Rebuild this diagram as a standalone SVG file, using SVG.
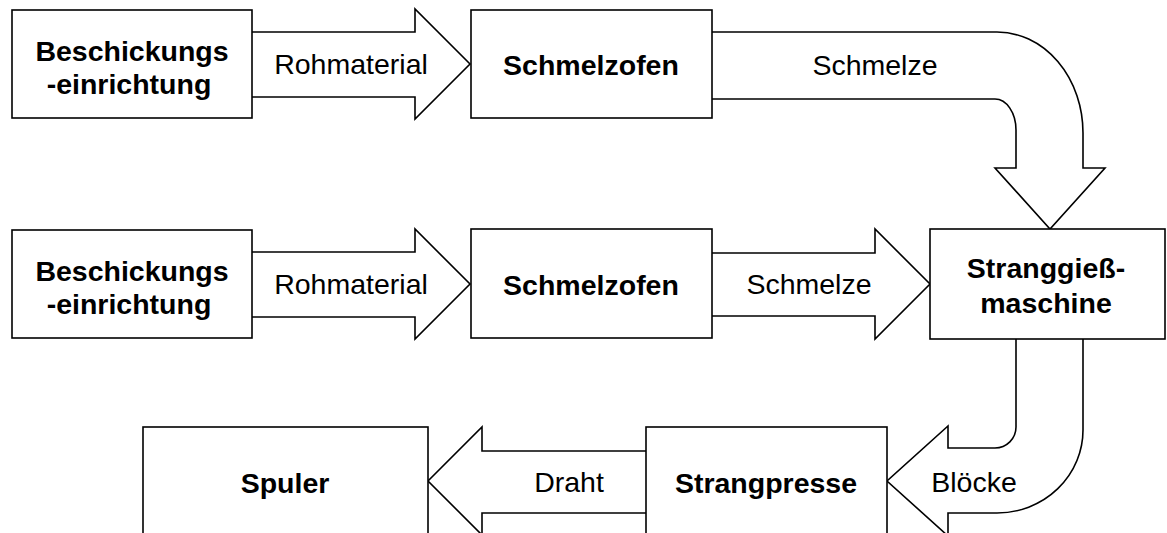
<svg xmlns="http://www.w3.org/2000/svg" width="1167" height="533" viewBox="0 0 1167 533">
<style>
.box{fill:#fff;stroke:#000;stroke-width:1.6}
.arr{fill:#fff;stroke:#000;stroke-width:1.6;stroke-linejoin:miter}
.t{font-family:"Liberation Sans",Arial,sans-serif;font-size:28.5px;font-weight:bold;fill:#000;text-anchor:middle}
.l{font-family:"Liberation Sans",Arial,sans-serif;font-size:28.5px;fill:#000;text-anchor:middle}
</style>
<rect width="1167" height="533" fill="#fff"/>
<g id="connectors">
<path class="arr" d="M252,32 H415 V9 L470,64 L415,119 V97 H252"/>
<text class="l" x="351" y="74">Rohmaterial</text>
<path class="arr" d="M712,32 H997 A86,101 0 0 1 1083,133 V168 H1105 L1050,229 L995,168 H1016 V130 A21,31 0 0 0 995,99 H712"/>
<text class="l" x="875" y="75">Schmelze</text>
<path class="arr" d="M252,252 H415 V229 L470,284 L415,339 V317 H252"/>
<text class="l" x="351" y="294">Rohmaterial</text>
<path class="arr" d="M712,253 H875 V229 L930,284 L875,339 V316 H712"/>
<text class="l" x="809" y="294">Schmelze</text>
<path class="arr" d="M1016,339 V427 A21,21 0 0 1 995,448 H948 V426 L887,481 L948,536 V513 H997 A86,83 0 0 0 1083,430 V339"/>
<text class="l" x="974" y="492">Blöcke</text>
<path class="arr" d="M646,451 H482 V427 L428,481 L482,535 V513 H646"/>
<text class="l" x="569" y="492">Draht</text>
</g>
<g id="n1">
<rect class="box" x="12" y="10" width="240" height="108"/>
<text class="t" x="132" y="61">Beschickungs</text>
<text class="t" x="129" y="94">-einrichtung</text>
</g>
<g id="n2">
<rect class="box" x="471" y="10" width="241" height="108"/>
<text class="t" x="591" y="75">Schmelzofen</text>
</g>
<g id="n3">
<rect class="box" x="12" y="230" width="240" height="108"/>
<text class="t" x="132" y="281">Beschickungs</text>
<text class="t" x="129" y="314">-einrichtung</text>
</g>
<g id="n4">
<rect class="box" x="471" y="229" width="241" height="109"/>
<text class="t" x="591" y="295">Schmelzofen</text>
</g>
<g id="n5">
<rect class="box" x="930" y="229" width="235" height="110"/>
<text class="t" x="1046" y="278">Stranggieß-</text>
<text class="t" x="1046" y="313">maschine</text>
</g>
<g id="n6">
<rect class="box" x="143" y="427" width="285" height="120"/>
<text class="t" x="285" y="493">Spuler</text>
</g>
<g id="n7">
<rect class="box" x="646" y="427" width="241" height="120"/>
<text class="t" x="766" y="493">Strangpresse</text>
</g>
</svg>
